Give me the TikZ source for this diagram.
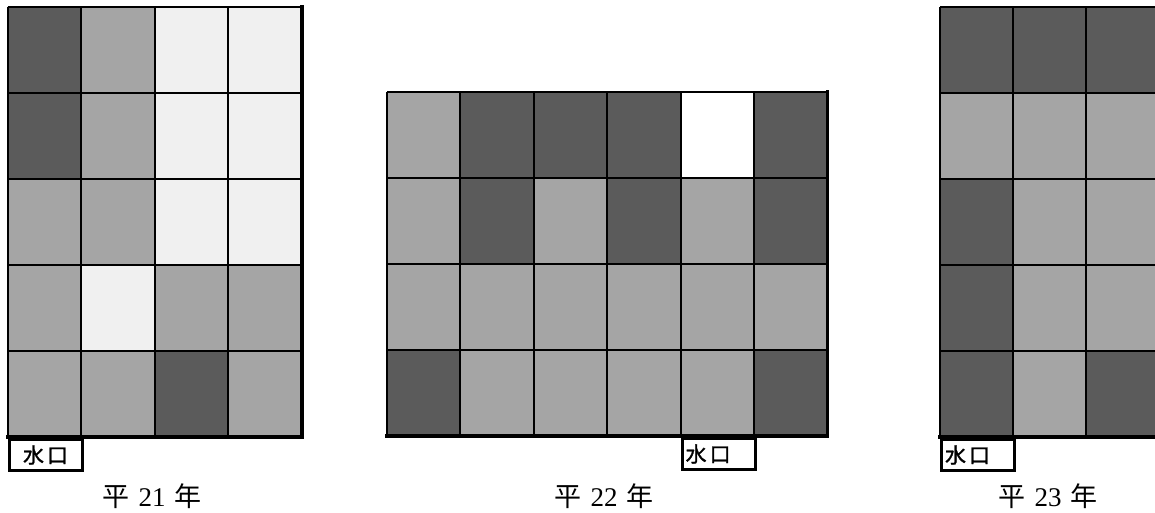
\documentclass[tikz,border=0pt]{standalone}
\usepackage{fontspec}
\setmainfont{Liberation Serif}
\newfontfamily\cjk{Noto Sans CJK JP}
\newfontfamily\cjkbold{Noto Sans CJK JP}[FakeBold=1.2]
\usepackage{tikz}
\usetikzlibrary{positioning}

\definecolor{cellD}{HTML}{5B5B5B}
\definecolor{cellM}{HTML}{A5A5A5}
\definecolor{cellL}{HTML}{F0F0F0}
\definecolor{cellW}{HTML}{FFFFFF}

\begin{document}
\begin{tikzpicture}[
		x=1pt, y=-1pt,
		every node/.style={inner sep=0pt},
		thinline/.style={line width=2pt},
		thickline/.style={line width=3.4pt, line cap=rect},
		spout/.style={
			draw,
			line width=3pt,
			anchor=north west,
			minimum height=31pt,
			text width=66pt,
			inner xsep=3.5pt,
			font=\cjkbold\fontsize{21}{21}\selectfont
		},
		year/.style={
			font=\fontsize{27}{27}\selectfont
		}
		]
		
		\useasboundingbox (0,0) rectangle (1155,512);
		
		% Grid 1 (4 x 5)
		\begin{scope}[shift={(7.5,7)}]
			\foreach \row [count=\j from 0] in {{D,M,L,L},{D,M,L,L},{M,M,L,L},{M,L,M,M},{M,M,D,M}}
			\foreach \c [count=\i from 0] in \row
			\fill[cell\c] (\i*73.6,\j*86) rectangle ++(73.6,86);
			\foreach \i in {0,...,3}
			\draw[thinline] (\i*73.6,0) -- (\i*73.6,430);
			\foreach \j in {0,...,4}
			\draw[thinline] (0,\j*86) -- (294.4,\j*86);
			\draw[thickline] (0,430) -- (294.4,430) -- (294.4,0);
			\node[spout, align=center] (spoutA) at (0,431) {水\hspace{3pt}口};
		\end{scope}
		\node[year] (yearA) at (152,496) {{\cjk 平}\hspace{9pt}21\hspace{9pt}{\cjk 年}};
		
		% Grid 2 (6 x 4)
		\begin{scope}[shift={(387,92)}]
			\foreach \row [count=\j from 0] in {{M,D,D,D,W,D},{M,D,M,D,M,D},{M,M,M,M,M,M},{D,M,M,M,M,D}}
			\foreach \c [count=\i from 0] in \row
			\fill[cell\c] (\i*73.4,\j*86) rectangle ++(73.4,86);
			\foreach \i in {0,...,5}
			\draw[thinline] (\i*73.4,0) -- (\i*73.4,344);
			\foreach \j in {0,...,3}
			\draw[thinline] (0,\j*86) -- (440.4,\j*86);
			\draw[thickline] (0,344) -- (440.4,344) -- (440.4,0);
			\node[spout, align=left] (spoutB) at (293.6,345) {水\hspace{3pt}口};
		\end{scope}
		\node[year] (yearB) at (604,496) {{\cjk 平}\hspace{9pt}22\hspace{9pt}{\cjk 年}};
		
		% Grid 3 (3 x 5), cut at the right edge
		\begin{scope}[shift={(940,7)}]
			\foreach \row [count=\j from 0] in {{D,D,D},{M,M,M},{D,M,M},{D,M,M},{D,M,D}}
			\foreach \c [count=\i from 0] in \row
			\fill[cell\c] (\i*73,\j*86) rectangle ++(73,86);
			\foreach \i in {0,...,2}
			\draw[thinline] (\i*73,0) -- (\i*73,430);
			\foreach \j in {0,...,4}
			\draw[thinline] (0,\j*86) -- (219,\j*86);
			\draw[thickline] (0,430) -- (219,430) -- (219,0);
			\node[spout, align=left] (spoutC) at (0,431) {水\hspace{3pt}口};
		\end{scope}
		\node[year] (yearC) at (1048,496) {{\cjk 平}\hspace{9pt}23\hspace{9pt}{\cjk 年}};
		
	\end{tikzpicture}
\end{document}
